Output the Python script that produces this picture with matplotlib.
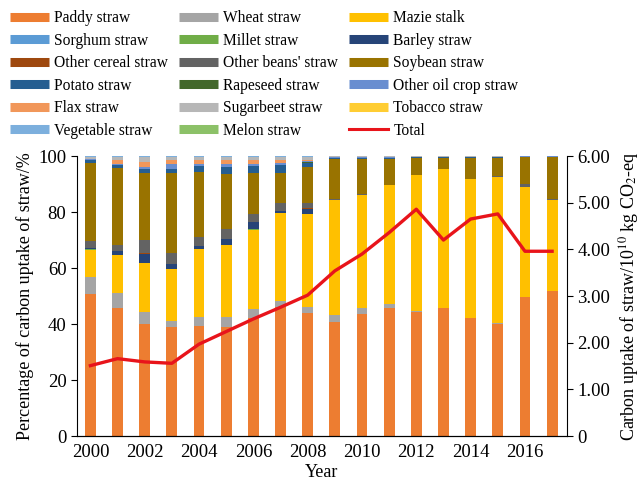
import matplotlib
matplotlib.use("Agg")
import matplotlib.pyplot as plt
from matplotlib.lines import Line2D
import numpy as np

plt.rcParams['font.family'] = ['Liberation Serif', 'DejaVu Serif']
plt.rcParams['mathtext.fontset'] = 'stix'

years = list(range(2000, 2018))

# Share of carbon uptake by straw type (%)
paddy = [50.6, 45.8, 40.2, 39.0, 39.3, 39.0, 42.0, 46.0, 43.8, 40.6, 43.6, 45.6, 44.4, 45.6, 42.0, 40.2, 49.5, 51.7]
wheat = [6.3, 5.2, 4.2, 2.1, 3.4, 3.6, 3.4, 2.3, 2.4, 2.8, 2.0, 1.6, 0.3, 0.2, 0.2, 0.2, 0.2, 0.2]
maize = [9.6, 13.6, 17.3, 18.4, 24.0, 25.6, 28.2, 31.2, 33.0, 40.9, 40.5, 42.4, 48.5, 49.4, 49.6, 52.2, 39.1, 32.4]
sorghum = [0.1, 0.1, 0.1, 0.1, 0.1, 0.1, 0.1, 0.1, 0.1, 0, 0, 0, 0, 0, 0, 0, 0, 0]
millet = [0.1, 0.1, 0.1, 0.1, 0.1, 0.1, 0.1, 0.1, 0.1, 0, 0, 0, 0, 0, 0, 0, 0, 0]
barley = [0.4, 1.2, 3.2, 1.8, 0.9, 2.0, 2.6, 0.5, 1.8, 0.1, 0, 0, 0, 0, 0, 0, 0, 0]
other_cereal = [0.1, 0.1, 0.1, 0.1, 0.1, 0.1, 0.1, 0.1, 0.1, 0, 0, 0, 0, 0, 0, 0, 0, 0]
other_beans = [2.6, 2.2, 4.9, 3.6, 3.3, 3.4, 2.7, 3.1, 1.9, 0.2, 0.2, 0.1, 0.1, 0.1, 0.1, 0.1, 1.1, 0.3]
soybean = [27.8, 27.3, 23.9, 28.8, 23.2, 19.5, 14.8, 10.6, 12.9, 14.5, 12.8, 9.4, 6.1, 4.1, 7.5, 6.7, 9.7, 14.9]
potato = [0.8, 1.1, 1.2, 1.2, 2.0, 2.6, 2.4, 2.7, 1.5, 0.1, 0.1, 0.1, 0.1, 0.1, 0.1, 0.1, 0.1, 0.1]
rapeseed = [0.1, 0.1, 0.1, 0.1, 0.1, 0.1, 0.1, 0.1, 0.1, 0, 0, 0, 0, 0, 0, 0, 0, 0]
other_oil = [0.3, 0.5, 0.8, 1.8, 0.6, 1.0, 0.8, 0.8, 0.6, 0.3, 0.3, 0.3, 0.2, 0.2, 0.2, 0.2, 0.2, 0.3]
flax = [0.3, 1.2, 1.8, 1.4, 1.4, 1.4, 1.2, 0.9, 0.3, 0, 0, 0, 0, 0, 0, 0, 0, 0]
sugarbeet = [0.6, 1.2, 1.8, 1.2, 1.2, 1.2, 1.2, 1.2, 1.1, 0.5, 0.5, 0.5, 0.3, 0.3, 0.3, 0.3, 0.1, 0.1]
tobacco = [0.1, 0.1, 0.1, 0.1, 0.1, 0.1, 0.1, 0.1, 0.1, 0, 0, 0, 0, 0, 0, 0, 0, 0]
vegetable = [0.1, 0.1, 0.1, 0.1, 0.1, 0.1, 0.1, 0.1, 0.1, 0, 0, 0, 0, 0, 0, 0, 0, 0]
melon = [0.1, 0.1, 0.1, 0.1, 0.1, 0.1, 0.1, 0.1, 0.1, 0, 0, 0, 0, 0, 0, 0, 0, 0]

# Total carbon uptake (10^10 kg CO2-eq)
total = [1.51, 1.66, 1.59, 1.56, 1.97, 2.24, 2.51, 2.76, 3.02, 3.54, 3.90, 4.36, 4.86, 4.20, 4.65, 4.76, 3.96, 3.96]

series = [
    ("Paddy straw", paddy, "#ED7D31"),
    ("Wheat straw", wheat, "#A5A5A5"),
    ("Mazie stalk", maize, "#FFC000"),
    ("Sorghum straw", sorghum, "#5B9BD5"),
    ("Millet straw", millet, "#70AD47"),
    ("Barley straw", barley, "#264478"),
    ("Other cereal straw", other_cereal, "#9E480E"),
    ("Other beans' straw", other_beans, "#636363"),
    ("Soybean straw", soybean, "#997300"),
    ("Potato straw", potato, "#255E91"),
    ("Rapeseed straw", rapeseed, "#43682B"),
    ("Other oil crop straw", other_oil, "#698ED0"),
    ("Flax straw", flax, "#F1975A"),
    ("Sugarbeet straw", sugarbeet, "#B7B7B7"),
    ("Tobacco straw", tobacco, "#FFCD33"),
    ("Vegetable straw", vegetable, "#7CAFDD"),
    ("Melon straw", melon, "#8CC168"),
]

fig = plt.figure(figsize=(6.4, 4.83), dpi=100)
ax = fig.add_axes([0.120, 0.097, 0.766, 0.580])

bottom = np.zeros(len(years))
handles = {}
for name, vals, col in series:
    v = np.array(vals, dtype=float)
    ax.bar(years, v, bottom=bottom, width=0.4, color=col, linewidth=0)
    bottom += v
    handles[name] = Line2D([], [], color=col, lw=6.5, solid_capstyle='butt')

ax.set_xlim(1999.5, 2017.55)
ax.set_ylim(0, 100)
ax.set_xticks(range(2000, 2017, 2))
ax.set_yticks(range(0, 101, 20))
ax.tick_params(axis='x', length=0, labelsize=13.5, pad=6)
ax.tick_params(axis='y', direction='out', length=4, labelsize=13.5)
ax.spines['top'].set_visible(False)
ax.spines['right'].set_visible(False)
ax.set_xlabel("Year", fontsize=13, labelpad=2)
ax.set_ylabel("Percentage of carbon uptake of straw/%", fontsize=13, labelpad=3)

ax2 = ax.twinx()
ax2.plot(years, total, color="#E8141B", lw=2.4)
ax2.set_ylim(0, 6)
ax2.set_yticks(np.arange(0, 6.01, 1.0))
ax2.set_yticklabels(["0"] + [f"{t:.2f}" for t in np.arange(1, 6.01, 1.0)])
ax2.tick_params(axis='y', direction='out', length=4, labelsize=13.5)
ax2.spines['top'].set_visible(False)
ax2.spines['left'].set_visible(False)
ax2.set_ylabel("Carbon uptake of straw/10$^{10}$ kg CO$_2$-eq", fontsize=13, labelpad=5)
handles["Total"] = Line2D([], [], color="#E8141B", lw=2.2)

order = ["Paddy straw", "Sorghum straw", "Other cereal straw", "Potato straw", "Flax straw", "Vegetable straw",
         "Wheat straw", "Millet straw", "Other beans' straw", "Rapeseed straw", "Sugarbeet straw", "Melon straw",
         "Mazie stalk", "Barley straw", "Soybean straw", "Other oil crop straw", "Tobacco straw", "Total"]
fig.legend([handles[k] for k in order], order, loc='upper left', bbox_to_anchor=(0.003, 0.995),
           ncol=3, frameon=False, fontsize=11.2, handlelength=2.5, handletextpad=0.35,
           columnspacing=0.7, labelspacing=0.42, borderpad=0.3, borderaxespad=0.2)

fig.savefig("out.png", dpi=100)
